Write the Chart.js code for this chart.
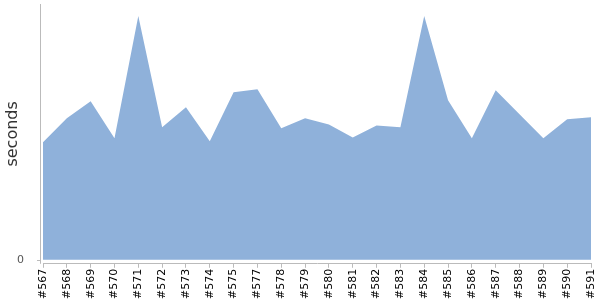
<!DOCTYPE html>
<html>
<head>
<meta charset="utf-8">
<script src="https://cdn.jsdelivr.net/npm/chart.js@4/dist/chart.umd.min.js"></script>
<style>
  html, body { margin: 0; padding: 0; background: #fff; }
  #wrap { width: 600px; height: 300px; }
</style>
</head>
<body>
<div id="wrap"><canvas id="chart"></canvas></div>
<script>
// build numbers (note: #576 is absent)
const builds = ['#567', '#568', '#569', '#570', '#571', '#572', '#573', '#574', '#575', '#577', '#578', '#579',
                '#580', '#581', '#582', '#583', '#584', '#585', '#586', '#587', '#588', '#589', '#590', '#591'];
// build durations, relative units
const seconds = [45.9, 55.3, 62.0, 47.5, 95.3, 51.8, 59.6, 46.3, 65.5, 66.7, 51.4, 55.3,
                 52.9, 47.8, 52.5, 51.8, 95.3, 62.4, 47.5, 66.3, 56.9, 47.5, 54.9, 55.7];
const yTicks = [0];

// y axis line sits a few px left of the first point
const yAxisLine = {
    id: 'yAxisLine',
    afterDraw(chart) {
        const ctx = chart.ctx;
        const area = chart.chartArea;
        const y0 = Math.round(chart.scales.y.getPixelForValue(0)) + 0.5;
        ctx.save();
        ctx.strokeStyle = '#bbbbbb';
        ctx.lineWidth = 1;
        ctx.beginPath();
        ctx.moveTo(area.left - 2.5, area.top);
        ctx.lineTo(area.left - 2.5, area.bottom);
        ctx.moveTo(area.left - 6, y0);
        ctx.lineTo(area.left - 2.5, y0);
        ctx.stroke();
        ctx.restore();
    }
};

new Chart(document.getElementById('chart').getContext('2d'), {
    type: 'line',
    data: {
        labels: builds,
        datasets: [{
            data: seconds,
            fill: 'origin',
            backgroundColor: '#8fb1da',
            borderWidth: 0,
            pointRadius: 0,
            tension: 0
        }]
    },
    options: {
        responsive: true,
        maintainAspectRatio: false,
        animation: false,
        layout: { padding: { top: 4, right: 9, bottom: 0, left: 0 } },
        plugins: { legend: { display: false }, tooltip: { enabled: false } },
        scales: {
            x: {
                offset: false,
                afterFit: function(axis) { axis.paddingLeft = 0; axis.paddingRight = 0; },
                grid: { drawOnChartArea: false, tickLength: 4, color: '#bbbbbb' },
                border: { color: '#bbbbbb' },
                ticks: {
                    autoSkip: false,
                    maxRotation: 90,
                    minRotation: 90,
                    padding: 1,
                    color: '#000',
                    font: { family: 'DejaVu Sans', size: 11 }
                }
            },
            y: {
                min: -1.57,
                max: 100,
                afterBuildTicks: function(axis) { axis.ticks = yTicks.map(v => ({ value: v })); },
                afterFit: function(axis) { axis.width = 43; axis.paddingTop = 0; axis.paddingBottom = 0; },
                grid: { display: false },
                border: { display: false },
                ticks: {
                    padding: 11,
                    color: '#555',
                    font: { family: 'DejaVu Sans', size: 11 }
                },
                title: {
                    display: true,
                    text: 'seconds',
                    color: '#333',
                    padding: { top: 3, bottom: 0 },
                    font: { family: 'DejaVu Sans', size: 16 }
                }
            }
        }
    },
    plugins: [yAxisLine]
});
</script>
</body>
</html>
